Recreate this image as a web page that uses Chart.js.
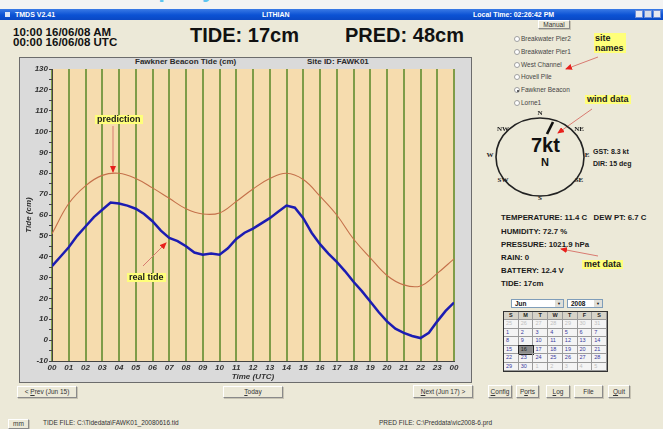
<!DOCTYPE html>
<html>
<head>
<meta charset="utf-8">
<script src="https://cdn.jsdelivr.net/npm/chart.js@4"></script>
<style>
html, body { margin: 0; padding: 0; }
body { width: 663px; height: 429px; overflow: hidden; position: relative; background: #ece9d8;
       font-family: "Liberation Sans", Arial, sans-serif; color: #111; }
.abs { position: absolute; white-space: nowrap; }
#top { left: 0; top: 0; width: 663px; height: 9px; background: #f3f3f3; overflow: hidden; }
#titlebar { left: 0; top: 9px; width: 663px; height: 11px; background: linear-gradient(#3a7ae6, #0b52d4 55%, #0a48c4);
            color: #fff; font-size: 7px; font-weight: bold; line-height: 11px; }
.winbtn { position: absolute; top: 1px; width: 8px; height: 8px; background: #e8e8f0; border: 1px solid #6a8ad8; box-sizing: border-box; }
.big { font-size: 20px; font-weight: bold; line-height: 20px; }
.hdr { font-size: 11.5px; font-weight: bold; line-height: 12px; }
#frame { left: 19px; top: 57px; width: 453px; height: 326px; background: #dadada; border: 1px solid #6c6c6c; box-sizing: border-box; }
#chartWrap { position: absolute; left: 19px; top: 57px; width: 453px; height: 326px; }
.ctitle { font-size: 8px; font-weight: bold; color: #2a2a2a; line-height: 10px; }
.note { background: #ffff7a; font-size: 9px; font-weight: bold; color: #1a1a1a; line-height: 9px; padding: 0 2px; }
.radio { font-size: 6.5px; color: #444; line-height: 8px; }
.radio i { position: absolute; left: -7px; top: 1px; width: 6px; height: 6px; border: 1px solid #a0a0a0; border-radius: 50%;
           background: #fff; box-sizing: border-box; }
.radio i.on::after { content: ""; position: absolute; left: 1.5px; top: 1.5px; width: 2px; height: 2px; border-radius: 50%; background: #333; }
.met { font-size: 7.8px; font-weight: bold; color: #1a1a1a; line-height: 9px; }
.btn { position: absolute; background: #ece9d8; border: 1px solid #fff; border-right-color: #8a8a8a; border-bottom-color: #8a8a8a;
       box-shadow: 1px 1px 0 #c8c4b4; box-sizing: border-box; font-size: 6.5px; color: #333; text-align: center; }
.ftxt { font-size: 6.5px; color: #333; line-height: 8px; }
.dir { font-family: "Liberation Serif", "DejaVu Serif", serif; font-weight: bold; font-size: 7px; color: #222; line-height: 7px;
       background: #ece9d8; transform: translate(-50%, -50%); padding: 0 1px; }
#cal { left: 503px; top: 311px; width: 105px; height: 61px; border: 1px solid #333; box-sizing: border-box; display: grid;
       grid-template-columns: repeat(7, 1fr); grid-template-rows: repeat(7, 1fr); background: #f4f4f4; }
#cal div { border-right: 1px solid #9a9a9a; border-bottom: 1px solid #9a9a9a; font-size: 5.5px; line-height: 7px; color: #3a3aa0; padding-left: 2px; }
#cal div.h { background: #d6d3c8; color: #222; text-align: center; padding: 0; font-weight: bold; }
#cal div.g { color: #c0c0c0; }
#cal div.sel { background: #8c8c8c; outline: 1px solid #222; color: #222; }
.drop { position: absolute; background: #fff; border: 1px solid #7f9db9; box-sizing: border-box; font-size: 6.5px; font-weight: bold; line-height: 7px; padding-left: 3px; }
.drop b { position: absolute; right: 0; top: 0; width: 8px; height: 7px; background: #e0dfd8; font-size: 4px; text-align: center; }
</style>
</head>
<body>

<div class="abs" id="top"><span class="abs" style="left:112px;top:-25px;font-size:24px;font-weight:bold;color:#5cc4f0;letter-spacing:3px;">Display</span></div>
<div class="abs" id="titlebar">
  <span class="abs" style="left:5px;top:3px;width:5px;height:5px;background:#dde6f8;"></span>
  <span class="abs" style="left:15px;">TMDS V2.41</span>
  <span class="abs" style="left:262px;">LITHIAN</span>
  <span class="abs" style="left:473px;">Local Time: 02:26:42 PM</span>
  <span class="winbtn" style="left:635px;"></span>
  <span class="winbtn" style="left:644px;background:#d8dce8;"></span>
  <span class="winbtn" style="left:653px;"></span>
</div>

<div class="abs hdr" style="left:13px;top:26px;">10:00 16/06/08 AM</div>
<div class="abs hdr" style="left:13px;top:36px;">00:00 16/06/08 UTC</div>
<div class="abs big" style="left:190px;top:25px;">TIDE: 17cm</div>
<div class="abs big" style="left:345px;top:25px;">PRED: 48cm</div>

<div class="abs" id="frame"></div>
<div class="abs ctitle" style="left:135px;top:57px;">Fawkner Beacon Tide (cm)</div>
<div class="abs ctitle" style="left:307px;top:57px;">Site ID: FAWK01</div>
<div id="chartWrap"><canvas id="tideChart" width="453" height="326"></canvas></div>

<div class="abs note" style="left:95px;top:115px;">prediction</div>
<div class="abs note" style="left:127px;top:273px;">real tide</div>

<!-- right panel -->
<div class="btn" style="left:538px;top:20px;width:32px;height:9px;line-height:7px;">Manual</div>
<div class="abs radio" style="left:521px;top:35px;"><i></i>Breakwater Pier2</div>
<div class="abs radio" style="left:521px;top:48px;"><i></i>Breakwater Pier1</div>
<div class="abs radio" style="left:521px;top:61px;"><i></i>West Channel</div>
<div class="abs radio" style="left:521px;top:73px;"><i></i>Hovell Pile</div>
<div class="abs radio" style="left:521px;top:86px;"><i class="on"></i>Fawkner Beacon</div>
<div class="abs radio" style="left:521px;top:99px;"><i></i>Lorne1</div>
<div class="abs note" style="left:594px;top:33px;line-height:10px;padding:0 2px 0 1px;">site<br>names</div>
<div class="abs note" style="left:585px;top:95px;">wind data</div>

<div class="abs dir" style="left:540px;top:113px;">N</div>
<div class="abs dir" style="left:579px;top:129px;">NE</div>
<div class="abs dir" style="left:587px;top:155px;">E</div>
<div class="abs dir" style="left:579px;top:180px;">SE</div>
<div class="abs dir" style="left:540px;top:198px;">S</div>
<div class="abs dir" style="left:503px;top:180px;">SW</div>
<div class="abs dir" style="left:490px;top:155px;">W</div>
<div class="abs dir" style="left:503px;top:129px;">NW</div>
<div class="abs" style="left:531px;top:135px;font-size:20px;font-weight:bold;line-height:20px;">7kt</div>
<div class="abs" style="left:541px;top:156px;font-size:11px;font-weight:bold;line-height:12px;">N</div>
<div class="abs met" style="left:593px;top:147px;font-size:7px;">GST: 8.3 kt</div>
<div class="abs met" style="left:593px;top:159px;font-size:7px;">DIR: 15 deg</div>

<div class="abs met" style="left:501px;top:213px;">TEMPERATURE: 11.4 C&nbsp;&nbsp; DEW PT: 6.7 C</div>
<div class="abs met" style="left:501px;top:227px;">HUMIDITY: 72.7 %</div>
<div class="abs met" style="left:501px;top:240px;">PRESSURE: 1021.9 hPa</div>
<div class="abs met" style="left:501px;top:253px;">RAIN: 0</div>
<div class="abs met" style="left:501px;top:266px;">BATTERY: 12.4 V</div>
<div class="abs met" style="left:501px;top:279px;">TIDE: 17cm</div>
<div class="abs note" style="left:582px;top:260px;">met data</div>

<div class="drop" style="left:511px;top:299px;width:53px;height:9px;">Jun<b>&#9660;</b></div>
<div class="drop" style="left:567px;top:299px;width:36px;height:9px;">2008<b>&#9660;</b></div>
<div class="abs" id="cal"></div>

<!-- buttons -->
<div class="btn" style="left:17px;top:386px;width:60px;height:12px;line-height:10px;">&lt; <u>P</u>rev (Jun 15)</div>
<div class="btn" style="left:223px;top:386px;width:60px;height:12px;line-height:10px;"><u>T</u>oday</div>
<div class="btn" style="left:413px;top:385px;width:60px;height:13px;line-height:11px;"><u>N</u>ext (Jun 17) &gt;</div>
<div class="btn" style="left:488px;top:385px;width:24px;height:13px;line-height:11px;"><u>C</u>onfig</div>
<div class="btn" style="left:516px;top:385px;width:23px;height:13px;line-height:11px;">P<u>o</u>rts</div>
<div class="btn" style="left:546px;top:385px;width:24px;height:13px;line-height:11px;"><u>L</u>og</div>
<div class="btn" style="left:574px;top:385px;width:29px;height:13px;line-height:11px;">File</div>
<div class="btn" style="left:608px;top:385px;width:22px;height:13px;line-height:11px;"><u>Q</u>uit</div>
<div class="btn" style="left:8px;top:419px;width:21px;height:10px;line-height:8px;">mm</div>
<div class="abs ftxt" style="left:43px;top:419px;">TIDE FILE: C:\Tidedata\FAWK01_20080616.tid</div>
<div class="abs ftxt" style="left:379px;top:419px;">PRED FILE: C:\Preddata\vic2008-6.prd</div>

<svg class="abs" style="left:0;top:0;pointer-events:none;" width="663" height="429">
  <defs>
    <marker id="hd" markerWidth="7" markerHeight="6" refX="6" refY="3" orient="auto" markerUnits="userSpaceOnUse">
      <path d="M0,0 L7,3 L0,6 z" fill="#e8201c"/>
    </marker>
  </defs>
  <g stroke="#d87a70" stroke-width="1" marker-end="url(#hd)">
    <line x1="113" y1="126" x2="113" y2="172"/>
    <line x1="143" y1="266" x2="166" y2="243"/>
    <line x1="598" y1="57" x2="566" y2="69"/>
    <line x1="592" y1="109" x2="558" y2="133"/>
    <line x1="598" y1="256" x2="561" y2="249"/>
  </g>
  <ellipse cx="540" cy="157" rx="44" ry="39" fill="none" stroke="#222" stroke-width="1.6"/>
  <line x1="553" y1="122" x2="547" y2="134" stroke="#111" stroke-width="2.6"/>
</svg>

<script>
// hourly prediction (cm)
const predTimes = [0, 1, 2, 3, 4, 5, 6, 7, 8, 9, 10, 11, 12, 13, 14, 15, 16, 17, 18, 19, 20, 21, 22, 23, 24];
const predCm = [51, 65.5, 74, 79, 80, 77.5, 73, 68, 63, 60.5, 61, 66.5, 72.5, 77.5, 80, 77, 69, 60, 48.5, 39.5, 31, 26.5, 26, 32, 39];

// measured tide, half hourly (cm)
const tideTimes = [0, 0.5, 1, 1.5, 2, 2.5, 3, 3.5, 4, 4.5, 5, 5.5, 6, 6.5, 7, 7.5, 8, 8.5, 9, 9.5, 10, 10.5, 11, 11.5,
                   12, 12.5, 13, 13.5, 14, 14.5, 15, 15.5, 16, 16.5, 17, 17.5, 18, 18.5, 19, 19.5, 20, 20.5, 21, 21.5,
                   22, 22.5, 23, 23.5, 24];
const tideCm = [35.5, 40, 44.5, 50, 54.5, 59, 62.5, 66, 65.5, 64.5, 63, 60.5, 57, 52.5, 49, 47.5, 45, 42, 41, 41.5, 41, 44, 48.5, 51.5,
                53.5, 56, 58.5, 61.5, 64.5, 63.5, 58.5, 51.5, 46, 41.5, 37.5, 33, 28, 23.5, 18.5, 13.5, 9, 5.5, 3.5, 2,
                1, 3.5, 9, 14, 18];

const hourLabels = ['00', '01', '02', '03', '04', '05', '06', '07', '08', '09', '10', '11', '12',
                    '13', '14', '15', '16', '17', '18', '19', '20', '21', '22', '23', '00'];

// calendar cells
const weekDays = ['S', 'M', 'T', 'W', 'T', 'F', 'S'];
const calDays = [25, 26, 27, 28, 29, 30, 31, 1, 2, 3, 4, 5, 6, 7, 8, 9, 10, 11, 12, 13, 14, 15, 16, 17, 18, 19, 20, 21,
                 22, 23, 24, 25, 26, 27, 28, 29, 30, 1, 2, 3, 4, 5];

const cal = document.getElementById('cal');
weekDays.forEach(d => { const c = document.createElement('div'); c.className = 'h'; c.textContent = d; cal.appendChild(c); });
calDays.forEach((d, i) => {
    const c = document.createElement('div');
    if (i < 7 || i > 36) c.className = 'g';
    if (i === 22) c.className = 'sel';
    c.textContent = d;
    cal.appendChild(c);
});

const axisFont = { family: "'Liberation Sans', Arial, sans-serif", size: 8, style: 'italic', weight: 'bold' };

// tan fill behind the plot area
const plotBg = {
    id: 'plotBg',
    beforeDraw(chart) {
        const { ctx, chartArea: a } = chart;
        ctx.save();
        ctx.fillStyle = '#f6dcae';
        ctx.fillRect(a.left, a.top, a.right - a.left, a.bottom - a.top);
        ctx.restore();
    }
};

new Chart(document.getElementById('tideChart'), {
    type: 'line',
    data: {
        datasets: [{
            label: 'Prediction',
            data: predTimes.map((t, i) => ({ x: t, y: predCm[i] })),
            borderColor: '#c4704a',
            borderWidth: 1.1,
            pointRadius: 0,
            tension: 0.4
        }, {
            label: 'Tide',
            data: tideTimes.map((t, i) => ({ x: t, y: tideCm[i] })),
            borderColor: '#1c1cb2',
            borderWidth: 2.5,
            pointRadius: 0,
            tension: 0
        }]
    },
    options: {
        responsive: false,
        animation: false,
        layout: { padding: { top: 12, right: 18, left: 0, bottom: 0 } },
        scales: {
            x: {
                type: 'linear',
                min: 0,
                max: 24,
                afterFit: s => { s.height = 22; },
                ticks: {
                    stepSize: 1,
                    autoSkip: false,
                    maxRotation: 0,
                    padding: 2,
                    color: '#333',
                    font: axisFont,
                    callback: v => hourLabels[v]
                },
                grid: { color: '#7f9c48', lineWidth: 2, drawTicks: false },
                border: { color: '#444', width: 1 },
                title: { display: true, text: 'Time (UTC)', color: '#333', font: axisFont, padding: { top: 0, bottom: 1 } }
            },
            y: {
                min: -10,
                max: 130,
                afterFit: s => { s.width = 33; },
                ticks: {
                    stepSize: 5,
                    autoSkip: false,
                    padding: 1,
                    color: '#333',
                    font: axisFont,
                    callback: v => (v % 10 === 0 ? v : '')
                },
                grid: { drawOnChartArea: false, tickLength: 3, color: '#444' },
                border: { color: '#444', width: 1 },
                title: { display: true, text: 'Tide (cm)', color: '#333', font: axisFont, padding: { top: 5, bottom: 0 } }
            }
        },
        plugins: {
            legend: { display: false },
            tooltip: { enabled: false }
        }
    },
    plugins: [plotBg]
});
</script>
</body>
</html>
